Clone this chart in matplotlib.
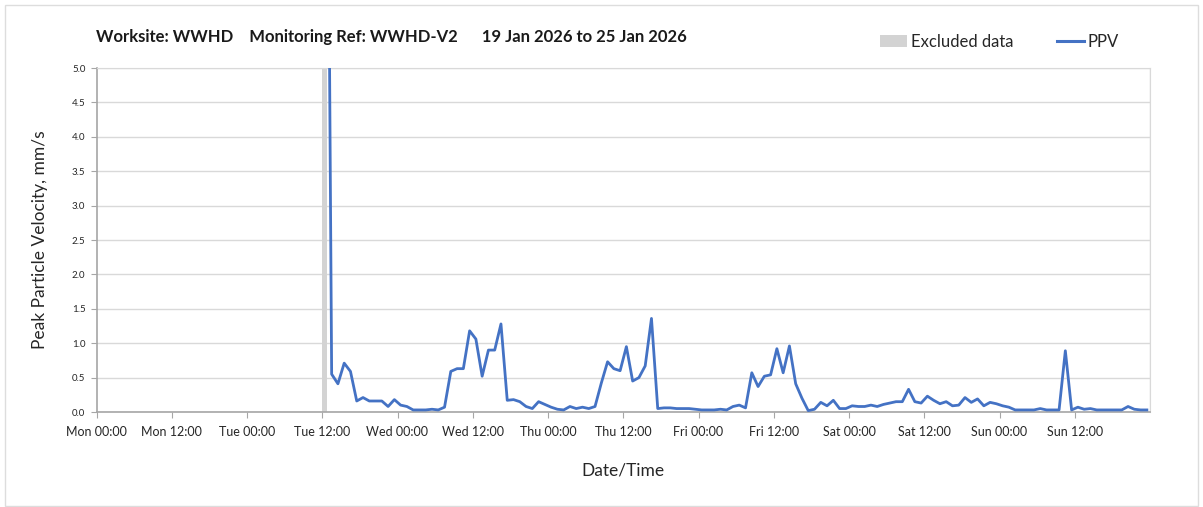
import matplotlib
matplotlib.use("Agg")
import matplotlib.pyplot as plt
import matplotlib.dates as mdates
from matplotlib.patches import Patch, Rectangle
from matplotlib.lines import Line2D
import pandas as pd

# ---------------- data ----------------
title_text = "Worksite: WWHD    Monitoring Ref: WWHD-V2      19 Jan 2026 to 25 Jan 2026"
first_reading = "2026-01-20 12:30"
excluded_start = "2026-01-20 11:55"
excluded_end = "2026-01-20 12:50"
x_start = "2026-01-19 00:00"
x_end = "2026-01-26 00:00"

ppv_values = [
    14.0, 0.55, 0.41, 0.71, 0.59, 0.16, 0.21, 0.16, 0.16, 0.16,
    0.08, 0.18, 0.10, 0.08, 0.03, 0.03, 0.03, 0.04, 0.03, 0.07,
    0.59, 0.63, 0.63, 1.18, 1.06, 0.52, 0.90, 0.90, 1.28, 0.17,
    0.18, 0.15, 0.08, 0.05, 0.15, 0.11, 0.07, 0.04, 0.03, 0.08,
    0.05, 0.07, 0.05, 0.08, 0.42, 0.73, 0.63, 0.60, 0.95, 0.45,
    0.50, 0.67, 1.36, 0.05, 0.06, 0.06, 0.05, 0.05, 0.05, 0.04,
    0.03, 0.03, 0.03, 0.04, 0.03, 0.08, 0.10, 0.06, 0.57, 0.37,
    0.52, 0.54, 0.92, 0.57, 0.96, 0.41, 0.20, 0.02, 0.04, 0.14,
    0.09, 0.17, 0.05, 0.05, 0.09, 0.08, 0.08, 0.10, 0.08, 0.11,
    0.13, 0.15, 0.15, 0.33, 0.15, 0.13, 0.23, 0.17, 0.12, 0.15,
    0.09, 0.10, 0.21, 0.14, 0.19, 0.09, 0.14, 0.12, 0.09, 0.07,
    0.03, 0.03, 0.03, 0.03, 0.05, 0.03, 0.03, 0.03, 0.89, 0.03,
    0.07, 0.04, 0.05, 0.03, 0.03, 0.03, 0.03, 0.03, 0.08, 0.04,
    0.03, 0.03,
]
times = pd.date_range(first_reading, periods=len(ppv_values), freq="h")

x_tick_labels = ["Mon 00:00", "Mon 12:00", "Tue 00:00", "Tue 12:00",
                 "Wed 00:00", "Wed 12:00", "Thu 00:00", "Thu 12:00",
                 "Fri 00:00", "Fri 12:00", "Sat 00:00", "Sat 12:00",
                 "Sun 00:00", "Sun 12:00"]
x_tick_times = pd.date_range(x_start, periods=len(x_tick_labels), freq="12h")
y_ticks = [0.0, 0.5, 1.0, 1.5, 2.0, 2.5, 3.0, 3.5, 4.0, 4.5, 5.0]

# ---------------- style ----------------
plt.rcParams["font.family"] = ["Lato", "DejaVu Sans"]
line_color = "#4472C4"
excl_color = "#D3D3D3"
grid_color = "#D9D9D9"
axis_color = "#A6A6A6"
text_color = "#262626"

fig = plt.figure(figsize=(12.03, 5.07), dpi=100)
W, H = 1203, 507
ax = fig.add_axes([96.5 / W, 1 - 412 / H, (1150 - 96.5) / W, (412 - 68) / H])

ax.axvspan(pd.Timestamp(excluded_start), pd.Timestamp(excluded_end),
           color=excl_color, lw=0, zorder=1)
ax.plot(times, ppv_values, color=line_color, lw=2.0, zorder=3,
        solid_joinstyle="round")

ax.set_xlim(pd.Timestamp(x_start), pd.Timestamp(x_end))
ax.set_ylim(0, 5)
ax.set_yticks(y_ticks)
ax.set_yticklabels([f"{v:.1f}" for v in y_ticks])

ax.set_xticks(x_tick_times)
ax.set_xticklabels(x_tick_labels)
ax.xaxis.set_minor_locator(mdates.HourLocator(byhour=[0]))

ax.grid(True, axis="y", color=grid_color, lw=1)
ax.grid(True, axis="x", which="minor", color=grid_color, lw=1)
ax.grid(False, axis="x", which="major")
ax.set_axisbelow(True)

for s in ["top", "right"]:
    ax.spines[s].set_color(grid_color)
for s in ["left", "bottom"]:
    ax.spines[s].set_color(axis_color)
    ax.spines[s].set_linewidth(1.2)

ax.tick_params(axis="x", which="major", direction="out", length=4,
               color=axis_color, labelsize=9, labelcolor=text_color, pad=6)
ax.tick_params(axis="x", which="minor", length=0)
ax.tick_params(axis="y", direction="out", length=4, color=axis_color,
               labelsize=7, labelcolor=text_color, pad=4)

ax.set_xlabel("Date/Time", fontsize=12.5, color=text_color, labelpad=18)
ax.set_ylabel("Peak Particle Velocity, mm/s", fontsize=12.5,
              color=text_color, labelpad=17)

fig.text(96 / W, 1 - 37 / H, title_text, fontsize=12, fontweight="bold",
         color="#1a1a1a", ha="left", va="center")

handles = [Patch(facecolor=excl_color, edgecolor="none"),
           Line2D([0], [0], color=line_color, lw=2.2)]
fig.legend(handles, ["Excluded data", "PPV"], loc="center right",
           bbox_to_anchor=(1134 / W, 1 - 42 / H), ncol=2, frameon=False,
           fontsize=12, handlelength=1.6, handletextpad=0.25,
           columnspacing=2.6, labelcolor=text_color)

fig.patches.append(Rectangle((4.5 / W, 1.5 / H), (1198 - 4.5) / W,
                             (502 - 1.5) / H, transform=fig.transFigure,
                             fill=False, edgecolor="#DDDDDD", lw=1))

fig.savefig("out.png", dpi=100)
